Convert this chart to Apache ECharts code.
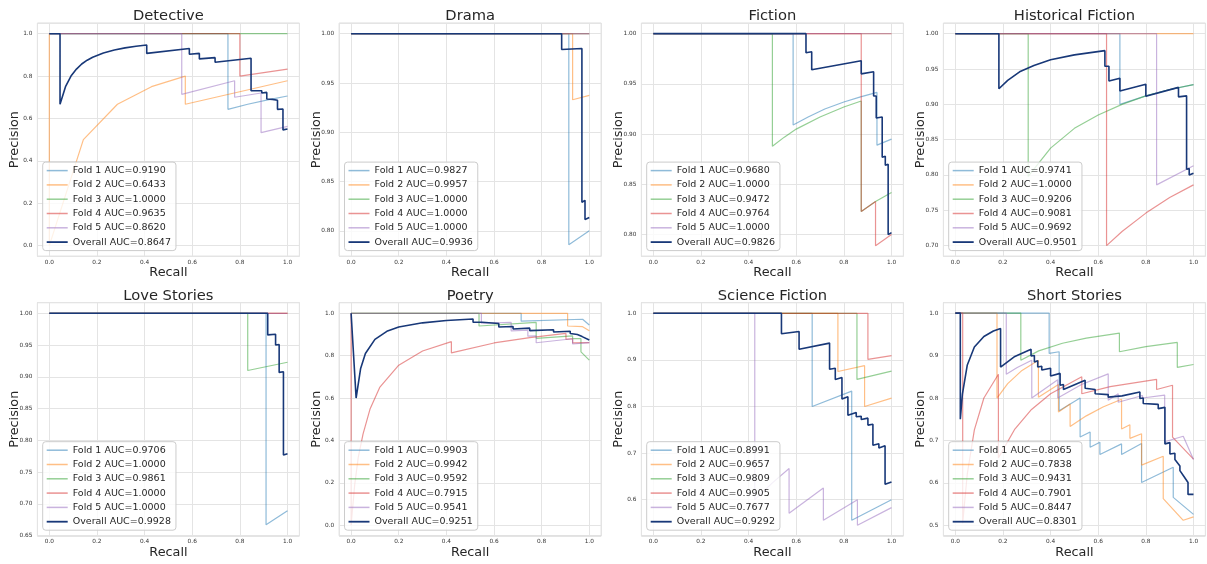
<!DOCTYPE html>
<html>
<head>
<meta charset="utf-8">
<title>Precision-recall por género</title>
<script src="https://cdn.jsdelivr.net/npm/echarts@6/dist/echarts.min.js"></script>
<style>
  html, body { margin: 0; padding: 0; background: #fff; }
  #chart { width: 1207px; height: 564px; }
</style>
</head>
<body>
<div id="chart"></div>
<script>
// ── Datos: curvas precision-recall ([recall, precision]) ──

const genres = ['Detective', 'Drama', 'Fiction', 'Historical Fiction',
                'Love Stories', 'Poetry', 'Science Fiction', 'Short Stories']

const detectiveAuc = ['0.9190', '0.6433', '1.0000', '0.9635', '0.8620', '0.8647']
const detectiveCurves = [
  [[0,1],[0.75,1],[0.75,0.643],[0.833,0.667],[0.917,0.688],[1,0.706]],
  [[0,1],[0,0],[0.143,0.5],[0.286,0.667],[0.429,0.75],[0.571,0.8],[0.571,0.667],[1,0.778]],
  [[0,1],[1,1]],
  [[0,1],[0.8,1],[0.8,0.8],[1,0.833]],
  [[0,1],[0.556,1],[0.556,0.714],[0.778,0.778],[0.778,0.7],[0.889,0.72],[0.889,0.533],[1,0.5625]],
  [[0,1],[0.045,1],[0.045,0.667],[0.068,0.75],[0.091,0.8],[0.114,0.833],[0.136,0.857],[0.159,0.875],
   [0.182,0.889],[0.227,0.909],[0.273,0.923],[0.318,0.933],[0.364,0.941],[0.409,0.947],[0.409,0.907],
   [0.588,0.93],[0.588,0.903],[0.63,0.907],[0.63,0.881],[0.696,0.887],[0.696,0.865],[0.847,0.884],
   [0.847,0.731],[0.892,0.731],[0.892,0.72],[0.913,0.723],[0.913,0.692],[0.937,0.69],[0.937,0.683],
   [0.958,0.686],[0.958,0.643],[0.981,0.645],[0.981,0.546],[1,0.55]],
]

const dramaAuc = ['0.9827', '0.9957', '1.0000', '1.0000', '1.0000', '0.9936']
const dramaCurves = [
  [[0,1],[0.914,1],[0.914,0.786],[1,0.8]],
  [[0,1],[0.93,1],[0.93,0.933],[1,0.9375]],
  [[0,1],[1,1]],
  [[0,1],[1,1]],
  [[0,1],[1,1]],
  [[0,1],[0.884,1],[0.884,0.984],[0.969,0.985],[0.969,0.829],[0.982,0.831],[0.982,0.8115],[1,0.8135]],
]

const fictionAuc = ['0.9680', '1.0000', '0.9472', '0.9764', '1.0000', '0.9826']
const fictionCurves = [
  [[0,1],[0.587,1],[0.587,0.909],[0.65,0.917],[0.72,0.925],[0.8,0.932],[0.87,0.937],[0.939,0.9415],[0.939,0.889],[1,0.895]],
  [[0,1],[1,1]],
  [[0,1],[0.5,1],[0.5,0.888],[0.55,0.897],[0.6,0.905],[0.7,0.917],[0.8,0.927],[0.873,0.933],[0.873,0.823],[0.933,0.833],[1,0.842]],
  [[0,1],[0.873,1],[0.873,0.823],[0.933,0.833],[0.933,0.789],[1,0.8]],
  [[0,1],[1,1]],
  [[0,1],[0.641,1],[0.641,0.981],[0.665,0.982],[0.665,0.964],[0.873,0.973],[0.873,0.96],[0.925,0.962],
   [0.925,0.938],[0.936,0.938],[0.936,0.916],[0.961,0.917],[0.961,0.877],[0.974,0.878],[0.974,0.869],
   [0.986,0.87],[0.986,0.8],[1,0.802]],
]

const historicalAuc = ['0.9741', '1.0000', '0.9206', '0.9081', '0.9692', '0.9501']
const historicalCurves = [
  [[0,1],[0.691,1],[0.691,0.9],[0.8,0.912],[0.9,0.921],[1,0.928]],
  [[0,1],[1,1]],
  [[0,1],[0.306,1],[0.306,0.798],[0.4,0.838],[0.5,0.866],[0.6,0.885],[0.7,0.9],[0.8,0.912],[0.9,0.921],[1,0.928]],
  [[0,1],[0.635,1],[0.635,0.7],[0.7,0.72],[0.8,0.746],[0.9,0.768],[1,0.786]],
  [[0,1],[0.845,1],[0.845,0.786],[1,0.813]],
  [[0,1],[0.183,1],[0.183,0.922],[0.22,0.934],[0.27,0.946],[0.33,0.955],[0.4,0.963],[0.5,0.97],
   [0.628,0.976],[0.628,0.954],[0.645,0.954],[0.645,0.933],[0.691,0.937],[0.691,0.919],[0.8,0.9285],
   [0.8,0.9115],[0.937,0.924],[0.937,0.9106],[0.971,0.912],[0.971,0.808],[0.982,0.809],[0.982,0.8],[1,0.8025]],
]

const loveAuc = ['0.9706', '1.0000', '0.9861', '1.0000', '1.0000', '0.9928']
const loveCurves = [
  [[0,1],[0.91,1],[0.91,0.667],[1,0.689]],
  [[0,1],[1,1]],
  [[0,1],[0.833,1],[0.833,0.91],[1,0.923]],
  [[0,1],[1,1]],
  [[0,1],[1,1]],
  [[0,1],[0.917,1],[0.917,0.966],[0.95,0.967],[0.95,0.95],[0.965,0.951],[0.965,0.907],[0.983,0.908],[0.983,0.777],[1,0.779]],
]

const poetryAuc = ['0.9903', '0.9942', '0.9592', '0.7915', '0.9541', '0.9251']
const poetryCurves = [
  [[0,1],[0.714,1],[0.714,0.963],[0.972,0.972],[1,0.945]],
  [[0,1],[0.909,1],[0.909,0.94],[0.972,0.937],[1,0.918]],
  [[0,1],[0.537,1],[0.537,0.94],[0.777,0.957],[0.777,0.882],[0.93,0.893],[0.93,0.88],[0.965,0.88],[0.965,0.818],[1,0.779]],
  [[0,1],[0,0],[0.015,0.19],[0.03,0.32],[0.05,0.43],[0.08,0.55],[0.12,0.65],[0.2,0.755],[0.3,0.822],
   [0.421,0.866],[0.421,0.813],[0.6,0.86],[0.75,0.885],[0.902,0.905],[0.902,0.877],[0.93,0.88],[0.93,0.86],[1,0.862]],
  [[0,1],[0.547,1],[0.547,0.953],[0.672,0.957],[0.672,0.917],[0.742,0.92],[0.742,0.892],[0.777,0.893],
   [0.777,0.861],[0.93,0.88],[0.93,0.855],[1,0.862]],
  [[0,1],[0.021,0.6],[0.04,0.74],[0.06,0.81],[0.1,0.877],[0.15,0.915],[0.2,0.935],[0.3,0.955],[0.4,0.966],
   [0.512,0.973],[0.512,0.958],[0.55,0.958],[0.55,0.95],[0.62,0.952],[0.62,0.935],[0.68,0.938],[0.68,0.926],
   [0.75,0.93],[0.75,0.918],[0.85,0.922],[0.85,0.912],[0.92,0.915],[0.92,0.905],[0.95,0.9],[0.97,0.89],[1,0.874]],
]

const scifiAuc = ['0.8991', '0.9657', '0.9809', '0.9905', '0.7677', '0.9292']
const scifiCurves = [
  [[0,1],[0.667,1],[0.667,0.8],[0.833,0.833],[0.833,0.556],[1,0.6]],
  [[0,1],[0.775,1],[0.775,0.875],[0.887,0.8875],[0.887,0.8],[1,0.818]],
  [[0,1],[0.855,1],[0.855,0.858],[1,0.876]],
  [[0,1],[0.901,1],[0.901,0.901],[1,0.909]],
  [[0,1],[0.426,1],[0.426,0.6],[0.5,0.636],[0.57,0.667],[0.57,0.571],[0.714,0.625],[0.714,0.556],
   [0.857,0.6],[0.857,0.545],[1,0.583]],
  [[0,1],[0.538,1],[0.538,0.956],[0.612,0.961],[0.612,0.923],[0.74,0.936],[0.74,0.88],[0.764,0.882],
   [0.764,0.858],[0.792,0.862],[0.792,0.816],[0.817,0.821],[0.817,0.781],[0.852,0.787],[0.852,0.778],
   [0.873,0.779],[0.873,0.772],[0.901,0.775],[0.901,0.76],[0.922,0.762],[0.922,0.717],[0.947,0.72],
   [0.947,0.711],[0.973,0.716],[0.973,0.633],[1,0.638]],
]

const shortAuc = ['0.8065', '0.7838', '0.9431', '0.7901', '0.8447', '0.8301']
const shortCurves = [
  [[0,1],[0.394,1],[0.394,0.905],[0.436,0.909],[0.436,0.77],[0.524,0.8],[0.524,0.708],[0.566,0.72],
   [0.566,0.684],[0.607,0.696],[0.607,0.667],[0.698,0.692],[0.698,0.667],[0.782,0.693],[0.782,0.601],
   [0.915,0.637],[0.915,0.566],[1,0.526]],
  [[0,1],[0.175,1],[0.175,0.8],[0.22,0.834],[0.28,0.865],[0.349,0.889],[0.349,0.802],[0.433,0.832],
   [0.433,0.767],[0.482,0.786],[0.482,0.733],[0.55,0.758],[0.62,0.779],[0.698,0.797],[0.698,0.727],
   [0.733,0.737],[0.733,0.705],[0.782,0.716],[0.782,0.642],[0.873,0.663],[0.873,0.563],[0.957,0.512],[1,0.52]],
  [[0,1],[0.275,1],[0.275,0.889],[0.35,0.911],[0.45,0.929],[0.55,0.941],[0.689,0.953],[0.689,0.909],
   [0.8,0.921],[0.932,0.931],[0.932,0.872],[1,0.879]],
  [[0,1],[0.031,1],[0.031,0.505],[0.05,0.62],[0.08,0.725],[0.12,0.8],[0.181,0.856],[0.181,0.659],
   [0.25,0.727],[0.32,0.773],[0.4,0.81],[0.531,0.85],[0.531,0.81],[0.65,0.827],[0.845,0.844],[0.845,0.82],
   [0.912,0.83],[0.912,0.708],[1,0.656]],
  [[0,1],[0.214,1],[0.214,0.856],[0.26,0.872],[0.321,0.889],[0.321,0.8],[0.43,0.843],[0.43,0.8],
   [0.53,0.832],[0.642,0.857],[0.642,0.795],[0.684,0.81],[0.684,0.79],[0.786,0.806],[0.786,0.8],
   [0.879,0.807],[0.879,0.697],[0.957,0.71],[1,0.655]],
  [[0,1],[0.021,1],[0.021,0.75],[0.03,0.81],[0.05,0.877],[0.08,0.92],[0.12,0.945],[0.16,0.958],[0.19,0.964],
   [0.19,0.873],[0.25,0.898],[0.318,0.915],[0.318,0.899],[0.332,0.9],[0.332,0.885],[0.346,0.888],[0.346,0.873],
   [0.363,0.875],[0.363,0.866],[0.4,0.87],[0.4,0.852],[0.44,0.858],[0.44,0.83],[0.454,0.832],[0.454,0.82],
   [0.545,0.842],[0.545,0.823],[0.587,0.82],[0.587,0.81],[0.642,0.808],[0.642,0.802],[0.7,0.805],[0.775,0.814],
   [0.775,0.799],[0.789,0.8],[0.789,0.787],[0.852,0.785],[0.852,0.775],[0.88,0.778],[0.88,0.692],[0.901,0.695],
   [0.901,0.668],[0.922,0.67],[0.922,0.655],[0.943,0.64],[0.943,0.629],[0.96,0.615],[0.977,0.601],[0.977,0.573],[1,0.573]],
]

const panelCurves = [detectiveCurves, dramaCurves, fictionCurves, historicalCurves,
                     loveCurves, poetryCurves, scifiCurves, shortCurves]
const panelAuc = [detectiveAuc, dramaAuc, fictionAuc, historicalAuc,
                  loveAuc, poetryAuc, scifiAuc, shortAuc]

// Rango del eje Y por panel: [min, max, paso de ticks, decimales]
const yAxisRanges = [
  [-0.05, 1.05, 0.2, 1], [0.7743, 1.0108, 0.05, 2], [0.7785, 1.0105, 0.05, 2], [0.685, 1.015, 0.05, 2],
  [0.6497, 1.0167, 0.05, 2], [-0.05, 1.05, 0.2, 1], [0.5225, 1.0227, 0.1, 1], [0.4755, 1.0245, 0.1, 1],
]

// ── Estilo / layout ──────────────────────────────────────
const FOLD_COLORS = ['#1f77b4', '#ff7f0e', '#2ca02c', '#d62728', '#9467bd']
const OVERALL_COLOR = '#183878'
const TEXT = '#262626'
const FONT = 'DejaVu Sans'

// Iconos de leyenda: una línea horizontal (grosor fold / overall)
const ICON_FOLD = 'path://M0,0H21V1.5H0Z'
const ICON_OVERALL = 'path://M0,0H21V1.8H0Z'

const COL_LEFT = [37.4, 339.2, 641.4, 943.4]
const ROW_TOP = [23.1, 302.7]
const GRID_W = 262
const GRID_H = 233.1
const H = 564

const grids = [], xAxes = [], yAxes = [], titles = [], legends = [], series = []

genres.forEach((genre, i) => {
  const left = COL_LEFT[i % 4]
  const top = ROW_TOP[Math.floor(i / 4)]
  const [ymin, ymax, ystep, ydec] = yAxisRanges[i]

  grids.push({
    left, top, width: GRID_W, height: GRID_H,
    show: true, borderColor: '#d4d4d4', borderWidth: 1, backgroundColor: '#fff',
    containLabel: false, outerBoundsMode: 'none',
  })

  xAxes.push({
    type: 'value', gridIndex: i, min: -0.05, max: 1.05,
    minInterval: 0.2, maxInterval: 0.2,
    name: 'Recall', nameLocation: 'middle', nameGap: 10,
    nameTextStyle: { fontFamily: FONT, fontSize: 12.8, color: TEXT },
    axisLine: { show: false }, axisTick: { show: false },
    axisLabel: {
      showMinLabel: false, showMaxLabel: false, margin: 3,
      fontFamily: FONT, fontSize: 5.8, color: '#333',
      formatter: v => v.toFixed(1),
    },
    splitLine: { show: true, lineStyle: { color: '#e4e4e4', width: 1 } },
  })

  yAxes.push({
    type: 'value', gridIndex: i, min: ymin, max: ymax,
    minInterval: ystep, maxInterval: ystep,
    name: 'Precision', nameLocation: 'middle', nameGap: 16.5, nameMoveOverlap: false,
    nameTextStyle: { fontFamily: FONT, fontSize: 12.8, color: TEXT },
    axisLine: { show: false }, axisTick: { show: false },
    axisLabel: {
      showMinLabel: false, showMaxLabel: false, margin: 5,
      fontFamily: FONT, fontSize: 5.8, color: '#333',
      formatter: v => v.toFixed(ydec),
    },
    splitLine: { show: true, lineStyle: { color: '#e4e4e4', width: 1 } },
  })

  titles.push({
    text: genre, left: left + GRID_W / 2, top: top - 14.5, textAlign: 'center', padding: 0,
    textStyle: { fontFamily: FONT, fontSize: 14.7, fontWeight: 'normal', color: TEXT },
  })

  const names = panelAuc[i].map((auc, k) => (k < 5 ? `Fold ${k + 1} AUC=${auc}` : `Overall AUC=${auc}`))

  legends.push({
    orient: 'vertical', left: left + 5.3, bottom: H - (top + GRID_H) + 5.6,
    data: names.map((name, k) => ({ name, icon: k < 5 ? ICON_FOLD : ICON_OVERALL })),
    selectedMode: false, symbolKeepAspect: true,
    itemWidth: 21, itemHeight: 10, itemGap: 2.3,
    padding: [2.5, 5, 2.5, 4],
    backgroundColor: 'rgba(255,255,255,0.8)', borderColor: '#cccccc', borderWidth: 1, borderRadius: 3,
    textStyle: { fontFamily: FONT, fontSize: 9.5, color: TEXT, lineHeight: 12 },
  })

  panelCurves[i].forEach((pts, k) => {
    const overall = k === 5
    const color = overall ? OVERALL_COLOR : FOLD_COLORS[k]
    series.push({
      type: 'line', name: names[k], xAxisIndex: i, yAxisIndex: i,
      data: pts, symbol: 'none', showSymbol: false, silent: true, clip: true,
      itemStyle: { color, opacity: overall ? 1 : 0.5 },
      lineStyle: { color, width: overall ? 1.6 : 1.2, opacity: overall ? 1 : 0.5 },
      emphasis: { disabled: true },
      z: overall ? 3 : 2,
    })
  })
})

const chart = echarts.init(document.getElementById('chart'), null, { renderer: 'canvas' })
chart.setOption({
  animation: false,
  backgroundColor: '#fff',
  textStyle: { fontFamily: FONT },
  title: titles,
  legend: legends,
  grid: grids,
  xAxis: xAxes,
  yAxis: yAxes,
  series,
})
</script>
</body>
</html>
